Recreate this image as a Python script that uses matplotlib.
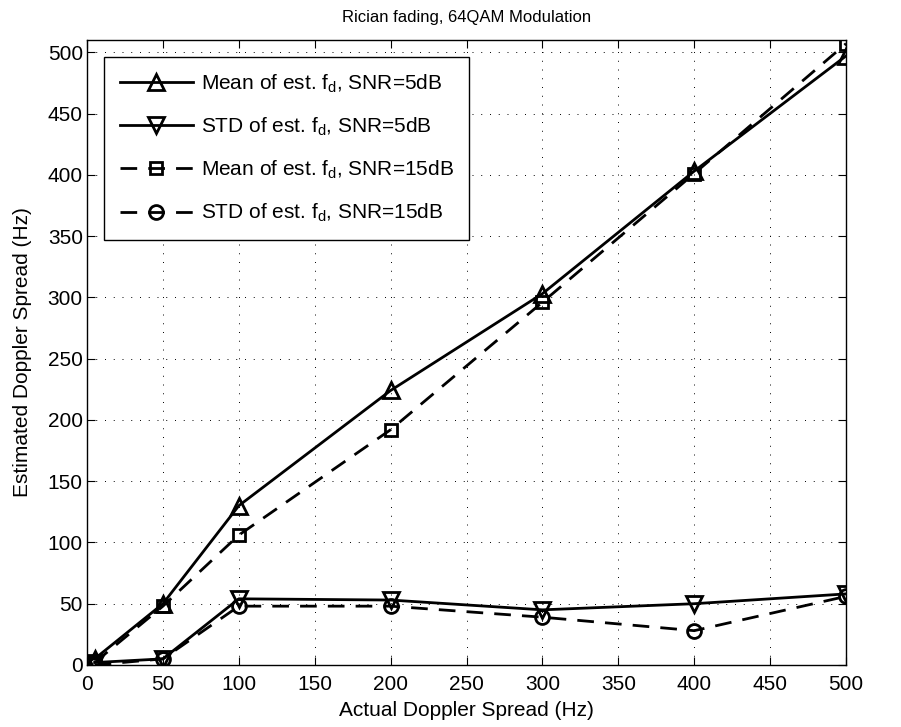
import matplotlib
matplotlib.use("Agg")
import matplotlib.pyplot as plt

# Data
x = [5, 50, 100, 200, 300, 400, 500]
mean_5db = [5, 50, 130, 224, 303, 403, 497]
std_5db = [2, 5, 54, 53, 45, 50, 58]
mean_15db = [2, 48, 106, 192, 296, 401, 507]
std_15db = [0, 5, 48, 48, 39, 28, 56]

x_ticks = list(range(0, 501, 50))
y_ticks = list(range(0, 501, 50))

plt.rcParams["font.family"] = ["Liberation Sans", "DejaVu Sans"]
plt.rcParams["mathtext.fontset"] = "custom"
plt.rcParams["mathtext.rm"] = "Liberation Sans"
plt.rcParams["mathtext.it"] = "Liberation Sans"

fig = plt.figure(figsize=(9.01, 7.27), dpi=100)
ax = fig.add_axes([0.0966, 0.0853, 0.8424, 0.8597])

style = dict(color="black", linewidth=2, markerfacecolor="none", markeredgewidth=2)

ax.plot(x, mean_5db, "-", marker="^", markersize=11,
        label=r"Mean of est. f$_\mathrm{d}$, SNR=5dB", **style)
ax.plot(x, std_5db, "-", marker="v", markersize=11,
        label=r"STD of est. f$_\mathrm{d}$, SNR=5dB", **style)
ax.plot(x, mean_15db, "--", marker="s", markersize=9, dashes=(6, 4),
        label=r"Mean of est. f$_\mathrm{d}$, SNR=15dB", **style)
ax.plot(x, std_15db, "--", marker="o", markersize=10, dashes=(6, 4),
        label=r"STD of est. f$_\mathrm{d}$, SNR=15dB", **style)

ax.set_xlim(0, 500)
ax.set_ylim(0, 510)
ax.set_xticks(x_ticks)
ax.set_yticks(y_ticks)
ax.tick_params(direction="in", top=True, right=True, labelsize=15, length=6)
ax.tick_params(axis="x", pad=7)
ax.tick_params(axis="y", pad=3)
ax.grid(True, linestyle=(0, (1, 8)), color="black", linewidth=0.7)

for spine in ax.spines.values():
    spine.set_linewidth(1)

ax.set_xlabel("Actual Doppler Spread (Hz)", fontsize=15, labelpad=5)
ax.set_ylabel("Estimated Doppler Spread (Hz)", fontsize=15, labelpad=11)
ax.set_title("Rician fading, 64QAM Modulation", fontsize=12, pad=13)

leg = ax.legend(loc="upper left", bbox_to_anchor=(0.0224, 0.973), borderaxespad=0,
                fontsize=15, fancybox=False, edgecolor="black", framealpha=1,
                handlelength=3.5, handletextpad=0.4, borderpad=0.75,
                labelspacing=1.0)
leg.get_frame().set_linewidth(1)

fig.savefig("out.png", dpi=100)
